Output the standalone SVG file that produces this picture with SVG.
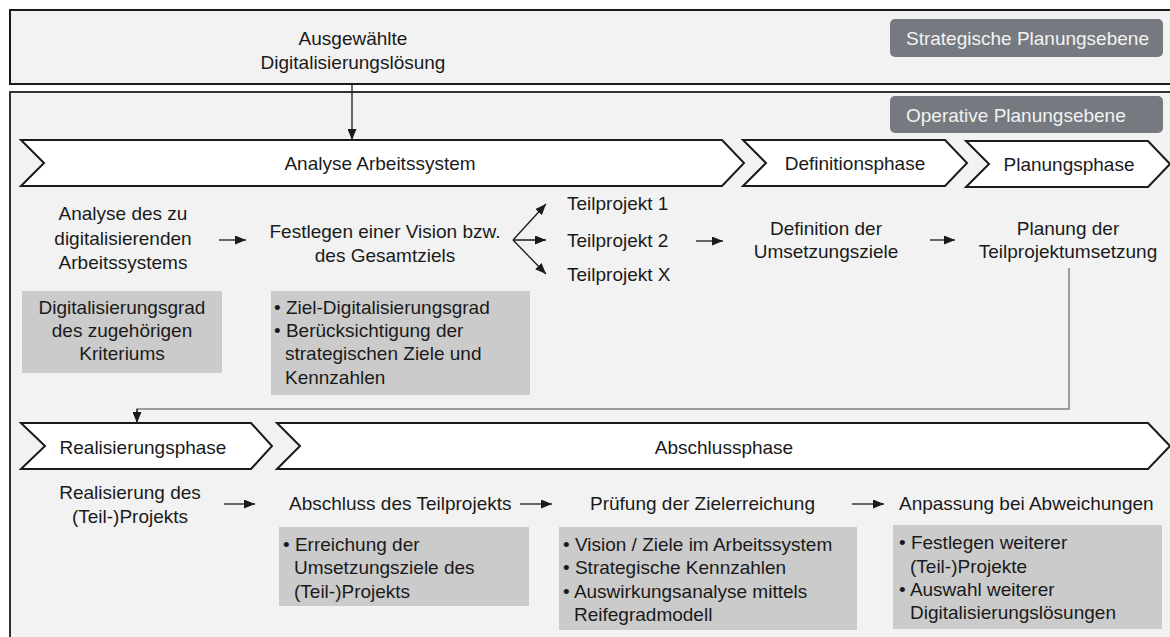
<svg xmlns="http://www.w3.org/2000/svg" width="1170" height="637" viewBox="0 0 1170 637">
<defs>
<style>
text{font-family:"Liberation Sans",Arial,sans-serif;font-size:19px;fill:#1a1a1a}
.c{text-anchor:middle}
.lbl{fill:#f2f2f2}
.chev{fill:#ffffff;stroke:#1a1a1a;stroke-width:2;stroke-linejoin:miter}
.gbox{fill:#cbcbcb}
.tag{fill:#767a80}
.arr{stroke:#1a1a1a;stroke-width:1.3;fill:none}
.fb{stroke:#808080;stroke-width:1.5;fill:none}
</style>
<marker id="ah" markerUnits="userSpaceOnUse" markerWidth="11" markerHeight="9" refX="11" refY="4.5" orient="auto">
<path d="M0,0 L11,4.5 L0,9 z" fill="#1a1a1a"/>
</marker>
</defs>
<rect x="0" y="0" width="1170" height="637" fill="#ffffff"/>
<g id="strategic-level">
<rect x="10" y="10" width="1170" height="74" fill="#f2f2f2" stroke="#1a1a1a" stroke-width="2"/>
<rect class="tag" x="890" y="19" width="273" height="38" rx="5"/>
<text class="lbl" x="906" y="45">Strategische Planungsebene</text>
</g>
<g id="operative-level">
<rect x="10" y="92" width="1170" height="560" fill="#f2f2f2" stroke="#333333" stroke-width="2"/>
<rect class="tag" x="890" y="96" width="273" height="37" rx="5"/>
<text class="lbl" x="906" y="122">Operative Planungsebene</text>
</g>
<g id="selected-solution">
<text class="c" x="353" y="45">Ausgewählte</text>
<text class="c" x="353" y="69">Digitalisierungslösung</text>
</g>
<g id="phase-analyse">
<polygon class="chev" points="21,140 722,140 744,163 722,186 21,186 44,163"/>
<text class="c" x="380" y="170">Analyse Arbeitssystem</text>
</g>
<g id="phase-definition">
<polygon class="chev" points="743,140 945,140 967,163 945,186 743,186 766,163"/>
<text class="c" x="855" y="170">Definitionsphase</text>
</g>
<g id="phase-planung">
<polygon class="chev" points="966,141 1148,141 1170,164 1148,187 966,187 989,164"/>
<text class="c" x="1069" y="171">Planungsphase</text>
</g>
<g id="analyse-node">
<text class="c" x="123" y="220">Analyse des zu</text>
<text class="c" x="123" y="245">digitalisierenden</text>
<text class="c" x="123" y="269">Arbeitssystems</text>
</g>
<g id="vision-node">
<text class="c" x="385" y="238">Festlegen einer Vision bzw.</text>
<text class="c" x="385" y="262">des Gesamtziels</text>
</g>
<g id="teilprojekte">
<text x="567" y="210">Teilprojekt 1</text>
<text x="567" y="247">Teilprojekt 2</text>
<text x="567" y="281">Teilprojekt X</text>
</g>
<g id="definition-node">
<text class="c" x="826" y="235">Definition der</text>
<text class="c" x="826" y="258">Umsetzungsziele</text>
</g>
<g id="planung-node">
<text class="c" x="1068" y="235">Planung der</text>
<text class="c" x="1068" y="258">Teilprojektumsetzung</text>
</g>
<g id="box-digitalisierungsgrad">
<rect class="gbox" x="22" y="291" width="200" height="82"/>
<text class="c" x="122" y="314">Digitalisierungsgrad</text>
<text class="c" x="122" y="337">des zugehörigen</text>
<text class="c" x="122" y="360">Kriteriums</text>
</g>
<g id="box-ziel">
<rect class="gbox" x="271" y="291" width="259" height="104"/>
<text x="274" y="314">• Ziel-Digitalisierungsgrad</text>
<text x="274" y="337">• Berücksichtigung der</text>
<text x="285" y="360">strategischen Ziele und</text>
<text x="285" y="384">Kennzahlen</text>
</g>
<g id="phase-realisierung">
<polygon class="chev" points="21,423 251,423 272,446 251,469 21,469 45,446"/>
<text class="c" x="143" y="454">Realisierungsphase</text>
</g>
<g id="phase-abschluss">
<polygon class="chev" points="277,423 1148,423 1170,446 1148,469 277,469 300,446"/>
<text class="c" x="724" y="454">Abschlussphase</text>
</g>
<g id="realisierung-node">
<text class="c" x="130" y="499">Realisierung des</text>
<text class="c" x="130" y="523">(Teil-)Projekts</text>
</g>
<g id="abschluss-node">
<text x="289" y="510">Abschluss des Teilprojekts</text>
</g>
<g id="pruefung-node">
<text x="590" y="510">Prüfung der Zielerreichung</text>
</g>
<g id="anpassung-node">
<text x="899" y="510">Anpassung bei Abweichungen</text>
</g>
<g id="box-erreichung">
<rect class="gbox" x="279" y="527" width="250" height="79"/>
<text x="283" y="551">• Erreichung der</text>
<text x="294" y="574">Umsetzungsziele  des</text>
<text x="294" y="598">(Teil-)Projekts</text>
</g>
<g id="box-vision">
<rect class="gbox" x="559" y="527" width="298" height="103"/>
<text x="563" y="551">• Vision / Ziele im Arbeitssystem</text>
<text x="563" y="574">• Strategische Kennzahlen</text>
<text x="563" y="598">• Auswirkungsanalyse mittels</text>
<text x="574" y="621">Reifegradmodell</text>
</g>
<g id="box-anpassung">
<rect class="gbox" x="893" y="525" width="269" height="104"/>
<text x="899" y="549">• Festlegen weiterer</text>
<text x="910" y="573">(Teil-)Projekte</text>
<text x="899" y="596">• Auswahl weiterer</text>
<text x="910" y="619">Digitalisierungslösungen</text>
</g>
<g id="connectors">
<line class="arr" x1="352" y1="85" x2="352" y2="140" marker-end="url(#ah)"/>
<line class="arr" x1="219" y1="240" x2="246" y2="240" marker-end="url(#ah)"/>
<line class="arr" x1="513" y1="240" x2="546" y2="204" marker-end="url(#ah)"/>
<line class="arr" x1="513" y1="240" x2="546" y2="240" marker-end="url(#ah)"/>
<line class="arr" x1="513" y1="240" x2="546" y2="274" marker-end="url(#ah)"/>
<line class="arr" x1="696" y1="241" x2="723" y2="241" marker-end="url(#ah)"/>
<line class="arr" x1="930" y1="240" x2="955" y2="240" marker-end="url(#ah)"/>
<polyline class="fb" points="1069,268 1069,409 137,409 137,414"/>
<line class="arr" x1="137" y1="409" x2="137" y2="423" marker-end="url(#ah)" stroke="#808080"/>
<line class="arr" x1="224" y1="504" x2="255" y2="504" marker-end="url(#ah)"/>
<line class="arr" x1="520" y1="504" x2="552" y2="504" marker-end="url(#ah)"/>
<line class="arr" x1="852" y1="504" x2="884" y2="504" marker-end="url(#ah)"/>
</g>
</svg>
